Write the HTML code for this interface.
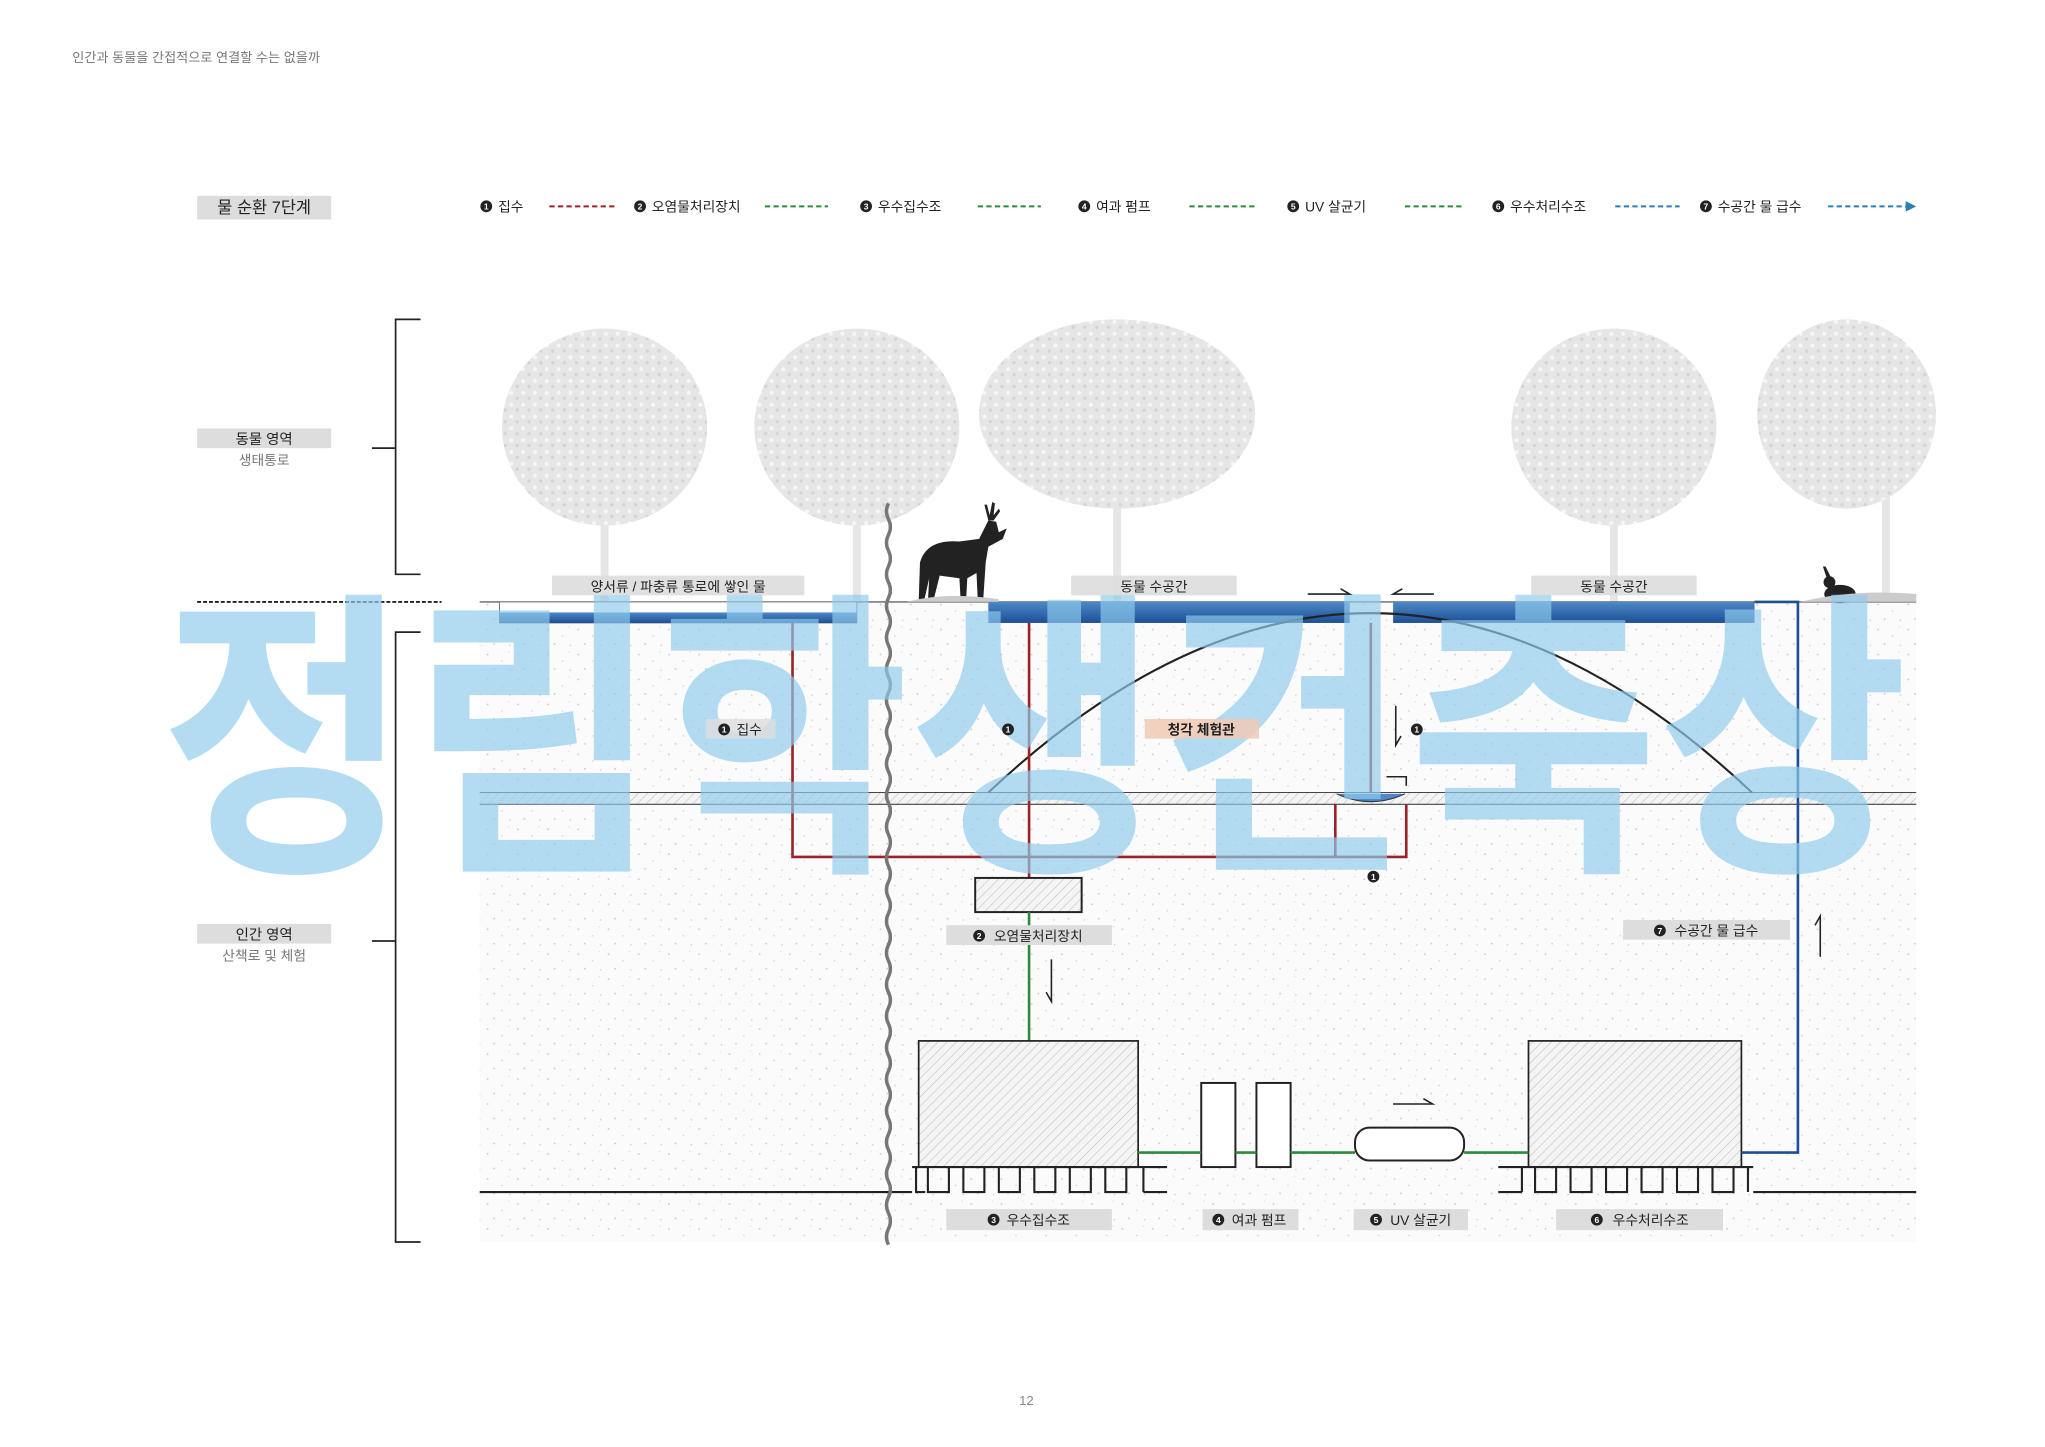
<!DOCTYPE html>
<html><head><meta charset="utf-8"><style>
html,body{margin:0;padding:0;background:#fff;width:2045px;height:1447px;overflow:hidden}
svg{display:block}
text{font-family:"Liberation Sans","Noto Sans CJK KR",sans-serif}
</style></head><body>
<svg width="2045" height="1447" viewBox="0 0 1556 1101" preserveAspectRatio="none" xmlns="http://www.w3.org/2000/svg">
<defs>
<pattern id="hatch" width="5" height="5" patternUnits="userSpaceOnUse" patternTransform="rotate(45)">
<rect width="5" height="5" fill="#f4f4f4"/><line x1="0" y1="0" x2="0" y2="5" stroke="#bbb" stroke-width="0.8"/></pattern>
<pattern id="speck" width="23" height="19" patternUnits="userSpaceOnUse">
<rect width="23" height="19" fill="#fbfbfb"/>
<circle cx="3" cy="4" r="0.7" fill="#ccc"/><circle cx="14" cy="9" r="0.6" fill="#d4d4d4"/><circle cx="8" cy="15" r="0.7" fill="#ccc"/><circle cx="19" cy="2" r="0.5" fill="#d8d8d8"/><circle cx="20" cy="16" r="0.6" fill="#ccc"/></pattern>
<pattern id="leaf" width="9" height="9" patternUnits="userSpaceOnUse">
<rect width="9" height="9" fill="#e6e6e6"/><circle cx="2" cy="2" r="1.6" fill="#f6f6f6"/><circle cx="6.5" cy="6" r="1.3" fill="#d4d4d4"/></pattern>
<linearGradient id="pool" x1="0" y1="0" x2="0" y2="1"><stop offset="0" stop-color="#4d88c8"/><stop offset="1" stop-color="#1d4f95"/></linearGradient>
</defs>

<text x="55" y="47" font-size="10" fill="#777">인간과 동물을 간접적으로 연결할 수는 없을까</text>

<!-- legend -->
<rect x="150" y="149" width="102" height="18" fill="#ddd"/>
<text x="201" y="162" font-size="12.5" text-anchor="middle" fill="#222">물 순환 7단계</text>
<g font-size="10.5" fill="#222">
<circle cx="370" cy="157" r="4.5" fill="#222"/><text x="379" y="161">집수</text>
<line x1="418" y1="157" x2="468" y2="157" stroke="#9b2226" stroke-width="1.5" stroke-dasharray="4,2.5"/>
<circle cx="487" cy="157" r="4.5" fill="#222"/><text x="496" y="161">오염물처리장치</text>
<line x1="582" y1="157" x2="630" y2="157" stroke="#2e8b3a" stroke-width="1.5" stroke-dasharray="4,2.5"/>
<circle cx="659" cy="157" r="4.5" fill="#222"/><text x="668" y="161">우수집수조</text>
<line x1="744" y1="157" x2="792" y2="157" stroke="#2e8b3a" stroke-width="1.5" stroke-dasharray="4,2.5"/>
<circle cx="825" cy="157" r="4.5" fill="#222"/><text x="834" y="161">여과 펌프</text>
<line x1="905" y1="157" x2="955" y2="157" stroke="#2e8b3a" stroke-width="1.5" stroke-dasharray="4,2.5"/>
<circle cx="984" cy="157" r="4.5" fill="#222"/><text x="993" y="161">UV 살균기</text>
<line x1="1069" y1="157" x2="1114" y2="157" stroke="#2e8b3a" stroke-width="1.5" stroke-dasharray="4,2.5"/>
<circle cx="1140" cy="157" r="4.5" fill="#222"/><text x="1149" y="161">우수처리수조</text>
<line x1="1229" y1="157" x2="1278" y2="157" stroke="#2a7fb0" stroke-width="1.5" stroke-dasharray="4,2.5"/>
<circle cx="1298" cy="157" r="4.5" fill="#222"/><text x="1307" y="161">수공간 물 급수</text>
<line x1="1391" y1="157" x2="1452" y2="157" stroke="#2a7fb0" stroke-width="1.5" stroke-dasharray="4,2.5"/>
<path d="M1450,153 L1458,157 L1450,161Z" fill="#2a7fb0"/>
</g>

<!-- brackets -->
<g stroke="#222" fill="none" stroke-width="1.3">
<path d="M320,243 H301 V437 H320"/><line x1="283" y1="341" x2="301" y2="341"/>
<path d="M320,481 H301 V945 H320"/><line x1="283" y1="716" x2="301" y2="716"/>
</g>
<rect x="150" y="326" width="102" height="15" fill="#ddd"/>
<text x="201" y="338" font-size="11" text-anchor="middle" fill="#222">동물 영역</text>
<text x="201" y="354" font-size="10.5" text-anchor="middle" fill="#777">생태통로</text>
<rect x="150" y="703" width="102" height="15" fill="#ddd"/>
<text x="201" y="715" font-size="11" text-anchor="middle" fill="#222">인간 영역</text>
<text x="201" y="731" font-size="10.5" text-anchor="middle" fill="#777">산책로 및 체험</text>
<line x1="150" y1="458" x2="336" y2="458" stroke="#222" stroke-width="1.5" stroke-dasharray="3,1.5"/>

<!-- trees -->
<g fill="url(#leaf)">
<rect x="457" y="360" width="6" height="98" fill="#e6e6e6"/><ellipse cx="460" cy="325" rx="78" ry="75"/>
<rect x="649" y="360" width="6" height="98" fill="#e6e6e6"/><ellipse cx="652" cy="325" rx="78" ry="75"/>
<rect x="847" y="360" width="6" height="98" fill="#e6e6e6"/><ellipse cx="850" cy="315" rx="105" ry="72"/>
<rect x="1225" y="360" width="6" height="98" fill="#e6e6e6"/><ellipse cx="1228" cy="325" rx="78" ry="75"/>
<rect x="1432" y="360" width="6" height="98" fill="#e6e6e6"/><ellipse cx="1405" cy="315" rx="68" ry="72"/>
</g>

<!-- ground -->
<rect x="365" y="458" width="1093" height="487" fill="url(#speck)"/>
<line x1="365" y1="458" x2="1458" y2="458" stroke="#444" stroke-width="0.8"/>

<!-- hatched slab -->
<rect x="365" y="603" width="1093" height="9" fill="url(#hatch)"/>
<line x1="365" y1="603" x2="1458" y2="603" stroke="#444" stroke-width="0.8"/>
<line x1="365" y1="612" x2="1458" y2="612" stroke="#444" stroke-width="0.8"/>

<!-- pools -->
<rect x="380" y="458" width="272" height="16" fill="#fff" stroke="#555" stroke-width="0.6"/>
<rect x="380" y="466" width="272" height="8" fill="url(#pool)"/>
<rect x="752" y="458" width="275" height="16" fill="url(#pool)"/>
<rect x="1060" y="458" width="275" height="16" fill="url(#pool)"/>

<!-- arc -->
<path d="M752,603 Q1043,330 1333,603" fill="none" stroke="#222" stroke-width="1.6"/>

<!-- red pipes -->
<g stroke="#9b2226" fill="none" stroke-width="2">
<path d="M603,474 V652 H1070 V612"/>
<line x1="783" y1="474" x2="783" y2="668"/>
<line x1="1043" y1="474" x2="1043" y2="603"/>
<line x1="1016" y1="612" x2="1016" y2="652"/>
</g>
<path d="M1017,604 Q1043,616 1069,604" fill="#4d88c8" stroke="#333" stroke-width="0.8"/>

<!-- treatment box -->
<rect x="742" y="668" width="81" height="26" fill="url(#hatch)" stroke="#222" stroke-width="1.5"/>
<line x1="783" y1="694" x2="783" y2="792" stroke="#2e8b3a" stroke-width="2"/>

<!-- tanks -->
<rect x="699" y="792" width="167" height="96" fill="url(#hatch)" stroke="#222" stroke-width="1.3"/>
<rect x="1163" y="792" width="162" height="96" fill="url(#hatch)" stroke="#222" stroke-width="1.3"/>
<rect x="914" y="824" width="26" height="64" fill="#fff" stroke="#222" stroke-width="1.5"/>
<rect x="956" y="824" width="26" height="64" fill="#fff" stroke="#222" stroke-width="1.5"/>
<line x1="866" y1="877" x2="914" y2="877" stroke="#2e8b3a" stroke-width="2"/>
<line x1="940" y1="877" x2="956" y2="877" stroke="#2e8b3a" stroke-width="2"/>
<line x1="982" y1="877" x2="1031" y2="877" stroke="#2e8b3a" stroke-width="2"/>
<line x1="1114" y1="877" x2="1163" y2="877" stroke="#2e8b3a" stroke-width="2"/>
<rect x="1031" y="858" width="83" height="25" rx="11" fill="#fff" stroke="#222" stroke-width="1.5"/>
<path d="M1325,877 H1368 V458 H1335" fill="none" stroke="#1d4f95" stroke-width="2"/>

<!-- footings & ground line -->
<g stroke="#222" fill="none" stroke-width="1.6">
<path d="M365,907 H694 M694,888 H888 M1140,888 H1334 M1334,907 H1458 M870,907 H888 M1140,907 H1158"/>
<path d="M697,888 V907 H704 M706,888 V907 H722 V888 M733,888 V907 H749 V888 M760,888 V907 H776 V888 M787,888 V907 H803 V888 M814,888 V907 H830 V888 M841,888 V907 H857 V888 M870,888 V907"/>
<path d="M1158,888 V907 M1168,888 V907 H1184 V888 M1195,888 V907 H1211 V888 M1222,888 V907 H1238 V888 M1249,888 V907 H1265 V888 M1276,888 V907 H1292 V888 M1303,888 V907 H1319 V888 M1330,888 V907"/>
</g>

<!-- wavy divider -->
<g fill="none">
<path id="wv" d="M676,383 q-3,6 0,12 q3,6 0,12 q-3,6 0,12 q3,6 0,12 q-3,6 0,12 q3,6 0,12 q-3,6 0,12 q3,6 0,12 q-3,6 0,12 q3,6 0,12 q-3,6 0,12 q3,6 0,12 q-3,6 0,12 q3,6 0,12 q-3,6 0,12 q3,6 0,12 q-3,6 0,12 q3,6 0,12 q-3,6 0,12 q3,6 0,12 q-3,6 0,12 q3,6 0,12 q-3,6 0,12 q3,6 0,12 q-3,6 0,12 q3,6 0,12 q-3,6 0,12 q3,6 0,12 q-3,6 0,12 q3,6 0,12 q-3,6 0,12 q3,6 0,12 q-3,6 0,12 q3,6 0,12 q-3,6 0,12 q3,6 0,12 q-3,6 0,12 q3,6 0,12 q-3,6 0,12 q3,6 0,12 q-3,6 0,12 q3,6 0,12 q-3,6 0,12 q3,6 0,12 q-3,6 0,12 q3,6 0,12 q-3,6 0,12" stroke="#777" stroke-width="2.5"/>
<use href="#wv" stroke="#fff" stroke-width="1"/>
</g>

<!-- deer -->
<g fill="#222">
<path d="M700,428 Q705,410 730,412 L745,410 L752,396 L758,397 L760,405 L766,402 L763,410 L752,416 L750,428 L748,458 L744,458 L743,436 L736,440 L735,458 L731,458 L730,440 L715,438 L710,458 L706,458 L707,440 L703,458 L699,458 Z"/>
<path d="M752,396 l-3,-12 l2,0 l2,8 l2,-10 l2,1 l-1,9 l4,-5 l1,2 l-5,7Z"/>
</g>
<!-- rabbit -->
<g fill="#222"><ellipse cx="1400" cy="452" rx="12" ry="7"/><circle cx="1392" cy="443" r="4.5"/><path d="M1390,440 l-3,-9 l2,0 l4,8Z"/></g>
<path d="M1370,458 Q1410,448 1458,452 L1458,458Z" fill="#ccc"/>
<path d="M690,458 Q720,450 760,456 L760,458Z" fill="#ccc"/>

<!-- watermark -->
<text x="122" y="645" font-size="230" font-weight="bold" fill="#8fcbed" fill-opacity="0.68" textLength="1330" lengthAdjust="spacingAndGlyphs" font-family="'Noto Sans CJK KR',sans-serif">정림학생건축상</text>

<!-- labels -->
<g font-size="10.5" fill="#222" text-anchor="middle">
<rect x="420" y="438" width="192" height="15" fill="#ddd" opacity="0.9"/><text x="516" y="450">양서류 / 파충류 통로에 쌓인 물</text>
<rect x="815" y="438" width="126" height="15" fill="#ddd" opacity="0.9"/><text x="878" y="450">동물 수공간</text>
<rect x="1165" y="438" width="126" height="15" fill="#ddd" opacity="0.9"/><text x="1228" y="450">동물 수공간</text>
<rect x="537" y="547" width="53" height="15" fill="#ddd" opacity="0.8"/><circle cx="551" cy="555" r="4.5" fill="#222"/><text x="570" y="559">집수</text>
<rect x="871" y="547" width="87" height="15" fill="#f1c9b4" opacity="0.85"/><text x="914" y="559" font-weight="bold">청각 체험관</text>
<circle cx="767" cy="555" r="4.5" fill="#222"/><circle cx="1078" cy="555" r="4.5" fill="#222"/><circle cx="1045" cy="667" r="4.5" fill="#222"/>
<rect x="720" y="704" width="126" height="15" fill="#ddd"/><circle cx="745" cy="712" r="4.5" fill="#222"/><text x="790" y="716">오염물처리장치</text>
<rect x="1235" y="700" width="127" height="15" fill="#ddd"/><circle cx="1263" cy="708" r="4.5" fill="#222"/><text x="1306" y="712">수공간 물 급수</text>
<rect x="720" y="920" width="126" height="16" fill="#ddd"/><circle cx="756" cy="928" r="4.5" fill="#222"/><text x="790" y="932">우수집수조</text>
<rect x="915" y="920" width="73" height="16" fill="#ddd"/><circle cx="927" cy="928" r="4.5" fill="#222"/><text x="958" y="932">여과 펌프</text>
<rect x="1030" y="920" width="87" height="16" fill="#ddd"/><circle cx="1047" cy="928" r="4.5" fill="#222"/><text x="1081" y="932">UV 살균기</text>
<rect x="1184" y="920" width="127" height="16" fill="#ddd"/><circle cx="1215" cy="928" r="4.5" fill="#222"/><text x="1256" y="932">우수처리수조</text>
</g>
<g fill="#fff" font-size="6.5" text-anchor="middle" font-weight="bold">
<text x="370" y="159.5">1</text><text x="487" y="159.5">2</text><text x="659" y="159.5">3</text><text x="825" y="159.5">4</text><text x="984" y="159.5">5</text><text x="1140" y="159.5">6</text><text x="1298" y="159.5">7</text>
<text x="551" y="557.5">1</text><text x="767" y="557.5">1</text><text x="1078" y="557.5">1</text><text x="1045" y="669.5">1</text>
<text x="745" y="714.5">2</text><text x="1263" y="710.5">7</text><text x="756" y="930.5">3</text><text x="927" y="930.5">4</text><text x="1047" y="930.5">5</text><text x="1215" y="930.5">6</text>
</g>

<!-- harpoon arrows -->
<g stroke="#222" fill="none" stroke-width="1.2">
<path d="M995,452 H1027 L1020,448"/>
<path d="M1091,452 H1060 L1067,448"/>
<path d="M1062,537 V567 L1066,560"/>
<path d="M1055,591 H1070 V598"/>
<path d="M800,730 V762 L796,755"/>
<path d="M1385,728 V697 L1381,704"/>
<path d="M1060,840 H1090 L1083,836"/>
</g>

<text x="781" y="1069" font-size="10" text-anchor="middle" fill="#888">12</text>
</svg>
</body></html>
